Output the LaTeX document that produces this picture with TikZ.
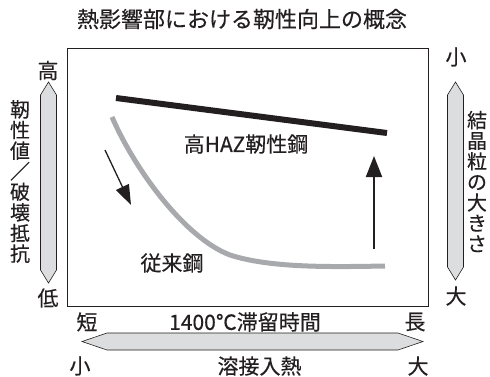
\documentclass[tikz,border=0pt]{standalone}
\usepackage{fontspec}
\setmainfont{Noto Sans CJK JP}[FakeBold=0.3]
\usetikzlibrary{arrows.meta}
\definecolor{ink}{HTML}{231F20}
\definecolor{curvegray}{HTML}{A7A9AC}
\definecolor{barfill}{HTML}{DCDDDE}
\tikzset{
  lbl/.style={font=\fontsize{21}{21}\selectfont, text=ink, inner sep=0pt},
  vlbl/.style={font=\fontsize{20}{20.6}\selectfont, text=ink, align=center, inner sep=0pt},
  dblbar/.style={draw=ink, line width=0.6pt, fill=barfill, line join=miter},
  hazline/.style={draw=ink, line width=6pt},
  convline/.style={draw=curvegray, line width=5pt},
}
\begin{document}
\begin{tikzpicture}[x=1pt,y=-1pt]
\useasboundingbox (0,0) rectangle (490,376);
\node[lbl, font=\fontsize{22}{22}\selectfont] (title) at (242,19) {熱影響部における靭性向上の概念};
\draw[ink, line width=0.8pt] (67,48) rectangle (428,306);
% curves
\coordinate (h1) at (116,98);
\coordinate (h2) at (387,133);
\draw[hazline] (h1) -- (h2);
\coordinate (c1) at (112,117);
\coordinate (c2) at (230,255);
\coordinate (c3) at (385,266);
\draw[convline] (c1) .. controls (135,170) and (185,238) .. (c2) .. controls (270,268) and (330,267) .. (c3);
% arrows
\coordinate (a1) at (105,150);
\coordinate (a2) at (131,205);
\draw[ink, line width=1.3pt, -{Triangle[length=20pt,width=14pt]}] (a1) -- (a2);
\coordinate (b1) at (374,249);
\coordinate (b2) at (374,156);
\draw[ink, line width=2pt, -{Triangle[length=21pt,width=16pt]}] (b1) -- (b2);
\node[lbl] (haz) at (246,144) {高HAZ靭性鋼};
\node[lbl] (conv) at (172,263) {従来鋼};
% left bar
\draw[dblbar] (40.5,95) -- (48.5,82) -- (56.5,95) -- (56.5,270) -- (48.5,283) -- (40.5,270) -- cycle;
\node[lbl] (lhi) at (48,70.5) {高};
\node[lbl] (llo) at (48,298) {低};
\node[vlbl] (lv) at (20,181.5) {靭\\性\\値\\／\\破\\壊\\抵\\抗};
% right bar
\draw[dblbar] (447.5,95) -- (455.5,82) -- (463.5,95) -- (463.5,267) -- (455.5,280) -- (447.5,267) -- cycle;
\node[lbl] (rsm) at (456,57) {小};
\node[lbl] (rlg) at (456,296) {大};
\node[vlbl] (rv) at (477,181.5) {結\\晶\\粒\\の\\大\\き\\さ};
% bottom
\node[lbl] (bs) at (87,322) {短};
\node[lbl] (bt) at (245,322) {1400℃滞留時間};
\node[lbl] (bl) at (415,322) {長};
\draw[dblbar] (82,341.5) -- (107,333) -- (398,333) -- (423,341.5) -- (398,350) -- (107,350) -- cycle;
\node[lbl] (ws) at (80,366) {小};
\node[lbl] (wt) at (259.5,366) {溶接入熱};
\node[lbl] (wl) at (418,366) {大};
\end{tikzpicture}
\end{document}
